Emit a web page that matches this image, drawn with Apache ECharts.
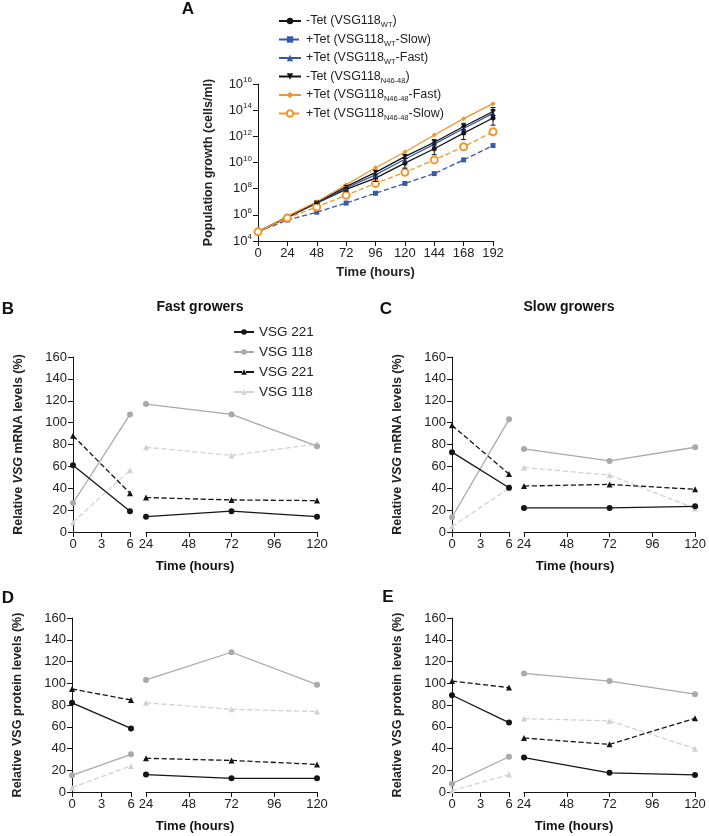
<!DOCTYPE html>
<html>
<head>
<meta charset="utf-8">
<script src="https://cdn.jsdelivr.net/npm/echarts@6/dist/echarts.min.js"></script>
<style>
  html, body { margin: 0; padding: 0; background: #fff; }
  #chart { width: 709px; height: 836px; }
</style>
</head>
<body>
<div id="chart"></div>
<script>
// panel A: population growth, log10(cells/ml)
var hoursA = [0, 24, 48, 72, 96, 120, 144, 168, 192];
var tetMinusWT  = [4.7, 5.8, 6.9, 7.95, 8.8, 9.95, 11.05, 12.25, 13.4];
var tetWTSlow   = [4.7, 5.6, 6.2, 6.9, 7.65, 8.4, 9.15, 10.2, 11.3];
var tetWTFast   = [4.7, 5.85, 6.9, 8.05, 9.05, 10.25, 11.4, 12.6, 13.75];
var tetMinusN46 = [4.7, 5.85, 6.95, 8.15, 9.25, 10.45, 11.55, 12.75, 13.9];
var tetN46Fast  = [4.7, 5.9, 7.0, 8.3, 9.6, 10.8, 12.1, 13.35, 14.5];
var tetN46Slow  = [4.7, 5.75, 6.6, 7.5, 8.4, 9.25, 10.2, 11.2, 12.35];
// error bars (half width, log10) for the -Tet lines
var errMinusWT  = [0, 0, 0.05, 0.15, 0.25, 0.38, 0.45, 0.5, 0.55];
var errMinusN46 = [0, 0, 0.05, 0.1, 0.15, 0.15, 0.2, 0.25, 0.3];

// panels B-E, hours 0, 6 | 24, 72, 120
var hours = [0, 6, 24, 72, 120];
var fastMrna221   = [61, 19, 14, 19, 14];
var fastMrna118   = [26.5, 107.5, 117, 107.5, 78.5];
var fastMrna221t  = [88, 35.5, 31.5, 29.3, 28.7];
var fastMrna118t  = [9, 56.5, 77.5, 70, 80.5];
var slowMrna221   = [73, 40.5, 22, 22, 23.5];
var slowMrna118   = [13.5, 103, 76, 65, 77.5];
var slowMrna221t  = [97.5, 53, 42, 43.5, 39];
var slowMrna118t  = [5, 40, 59, 52, 21.5];
var fastProt221   = [82, 58.5, 16, 12.6, 12.6];
var fastProt118   = [15.3, 34.6, 103, 128.5, 98.7];
var fastProt221t  = [94.7, 84.6, 31, 29, 25.4];
var fastProt118t  = [4, 24, 82, 76, 74];
var slowProt221   = [89, 63.8, 31.7, 17.6, 15.7];
var slowProt118   = [7.7, 32.4, 109, 102, 90];
var slowProt221t  = [102, 96, 49.6, 43.8, 67.8];
var slowProt118t  = [1.2, 16, 67.5, 65.4, 39.8];

var FONT = '"Liberation Sans", Arial, sans-serif';
var BLACK = '#151515', BLUE = '#3a58a8', ORANGE = '#f0962a', GRAY = '#a9a9a9', LIGHT = '#d2d2d2';

var chart = echarts.init(document.getElementById('chart'));

function pairs(xs, ys) {
    var out = [];
    for (var i = 0; i < xs.length; i++) out.push([xs[i], ys[i]]);
    return out;
}

var axisLine = { show: true, lineStyle: { color: BLACK, width: 1 } };
var axisTick = { show: true, length: 5, lineStyle: { color: BLACK, width: 1 } };
var tickLabel = { color: '#222', fontSize: 13, fontFamily: FONT };

var grids = [{ left: 258, top: 84, width: 235, height: 157 }];
var xAxes = [{
    gridIndex: 0, type: 'value', min: 0, max: 192, interval: 24,
    axisLine: axisLine, axisTick: axisTick, splitLine: { show: false },
    axisLabel: Object.assign({ margin: 6 }, tickLabel),
    name: 'Time (hours)', nameLocation: 'middle', nameGap: 25,
    nameTextStyle: { fontFamily: FONT, fontSize: 13, fontWeight: 'bold', color: '#222' }
}];
var yAxes = [{
    gridIndex: 0, type: 'value', min: 4, max: 16, interval: 2,
    axisLine: axisLine, axisTick: axisTick, splitLine: { show: false },
    axisLabel: Object.assign({
        margin: 6,
        formatter: function (v) { return '10{sup|' + v + '}'; },
        lineHeight: 16,
        rich: { sup: { fontSize: 8, lineHeight: 8, verticalAlign: 'top', fontFamily: FONT, color: '#222' } }
    }, tickLabel),
    name: 'Population growth (cells/ml)', nameLocation: 'middle', nameGap: 43,
    nameTextStyle: { fontFamily: FONT, fontSize: 12.5, fontWeight: 'bold', color: '#222' }
}];

// broken-axis panels
var panels = [
    { l: 73, lw: 57, r: 146, rw: 171, top: 357, h: 175, name: 'Relative {i|VSG} mRNA levels (%)',
      sets: [fastMrna221, fastMrna118, fastMrna221t, fastMrna118t] },
    { l: 452, lw: 57, r: 524, rw: 172, top: 357, h: 175, name: 'Relative {i|VSG} mRNA levels (%)',
      sets: [slowMrna221, slowMrna118, slowMrna221t, slowMrna118t] },
    { l: 72, lw: 59, r: 146, rw: 171, top: 618, h: 174, name: 'Relative VSG protein levels (%)',
      sets: [fastProt221, fastProt118, fastProt221t, fastProt118t] },
    { l: 452, lw: 57, r: 524, rw: 171, top: 618, h: 174, name: 'Relative VSG protein levels (%)',
      sets: [slowProt221, slowProt118, slowProt221t, slowProt118t] }
];

var lineStyles = [
    { color: BLACK, type: 'solid', symbol: 'circle', size: 6, label: 'VSG 221' },
    { color: GRAY, type: 'solid', symbol: 'circle', size: 6, label: 'VSG 118' },
    { color: BLACK, type: 'dashed', symbol: 'triangle', size: 6, label: 'VSG 221' },
    { color: LIGHT, type: 'dashed', symbol: 'triangle', size: 6, label: 'VSG 118' }
];
var legendNamesB = ['k221', 'k118', 'k221t', 'k118t'];

var series = [];

panels.forEach(function (p, pi) {
    var gi = grids.length;
    grids.push({ left: p.l, top: p.top, width: p.lw, height: p.h });
    grids.push({ left: p.r, top: p.top, width: p.rw, height: p.h });
    xAxes.push({
        gridIndex: gi, type: 'value', min: 0, max: 6, interval: 3,
        axisLine: axisLine, axisTick: axisTick, splitLine: { show: false },
        axisLabel: Object.assign({ margin: 6 }, tickLabel)
    });
    xAxes.push({
        gridIndex: gi + 1, type: 'value', min: 24, max: 120, interval: 24,
        axisLine: axisLine, axisTick: axisTick, splitLine: { show: false },
        axisLabel: Object.assign({ margin: 6 }, tickLabel)
    });
    yAxes.push({
        gridIndex: gi, type: 'value', min: 0, max: 160, interval: 20,
        axisLine: axisLine, axisTick: axisTick, splitLine: { show: false },
        axisLabel: Object.assign({ margin: 6 }, tickLabel),
        name: p.name, nameLocation: 'middle', nameGap: 48,
        nameTextStyle: {
            fontFamily: FONT, fontSize: 12.5, fontWeight: 'bold', color: '#222',
            rich: { i: { fontFamily: FONT, fontSize: 12.5, fontWeight: 'bold', fontStyle: 'italic', color: '#222' } }
        }
    });
    yAxes.push({ gridIndex: gi + 1, type: 'value', min: 0, max: 160, show: false });

    p.sets.forEach(function (vals, k) {
        var st = lineStyles[k];
        var common = {
            type: 'line', symbol: st.symbol, symbolSize: st.size,
            itemStyle: { color: st.color },
            lineStyle: { color: st.color, width: 1.3, type: st.type },
            z: 10 - k, animation: false
        };
        series.push(Object.assign({
            name: pi === 0 ? legendNamesB[k] : 'p' + pi + '_' + k + '_a',
            xAxisIndex: gi, yAxisIndex: gi,
            data: pairs(hours.slice(0, 2), vals.slice(0, 2))
        }, common));
        series.push(Object.assign({
            name: 'p' + pi + '_' + k + '_b',
            xAxisIndex: gi + 1, yAxisIndex: gi + 1,
            data: pairs(hours.slice(2), vals.slice(2))
        }, common));
    });
});

// panel A lines
var aDefs = [
    { name: 'mWT', data: tetMinusWT, color: BLACK, type: 'solid', symbol: 'circle', size: 5 },
    { name: 'pWTs', data: tetWTSlow, color: BLUE, type: 'dashed', symbol: 'rect', size: 5 },
    { name: 'pWTf', data: tetWTFast, color: BLUE, type: 'solid', symbol: 'triangle', size: 5 },
    { name: 'mN46', data: tetMinusN46, color: BLACK, type: 'solid', symbol: 'triangle', size: 5, rot: 180 },
    { name: 'pN46f', data: tetN46Fast, color: ORANGE, type: 'solid', symbol: 'diamond', size: 5 },
    { name: 'pN46s', data: tetN46Slow, color: ORANGE, type: 'dashed', symbol: 'emptyCircle', size: 7 }
];
var aLabels = {
    mWT: '-Tet (VSG118{sub|WT})',
    pWTs: '+Tet (VSG118{sub|WT}-Slow)',
    pWTf: '+Tet (VSG118{sub|WT}-Fast)',
    mN46: '-Tet (VSG118{sub|N46-48})',
    pN46f: '+Tet (VSG118{sub|N46-48}-Fast)',
    pN46s: '+Tet (VSG118{sub|N46-48}-Slow)'
};
aDefs.forEach(function (d) {
    series.push({
        name: d.name, type: 'line', xAxisIndex: 0, yAxisIndex: 0,
        symbol: d.symbol, symbolSize: d.size, symbolRotate: d.rot || 0,
        itemStyle: { color: d.color, borderWidth: d.symbol === 'emptyCircle' ? 2 : 0 },
        lineStyle: { color: d.color, width: 1.3, type: d.type },
        data: pairs(hoursA, d.data), animation: false
    });
});

var errData = [];
hoursA.forEach(function (h, i) {
    if (errMinusWT[i] > 0) errData.push([h, tetMinusWT[i] - errMinusWT[i], tetMinusWT[i] + errMinusWT[i]]);
    if (errMinusN46[i] > 0) errData.push([h, tetMinusN46[i] - errMinusN46[i], tetMinusN46[i] + errMinusN46[i]]);
});
series.push({
    name: 'err', type: 'custom', xAxisIndex: 0, yAxisIndex: 0, z: 20, animation: false,
    renderItem: function (params, api) {
        var lo = api.coord([api.value(0), api.value(1)]);
        var hi = api.coord([api.value(0), api.value(2)]);
        var st = { stroke: BLACK, lineWidth: 1 };
        return {
            type: 'group', children: [
                { type: 'line', shape: { x1: lo[0], y1: lo[1], x2: hi[0], y2: hi[1] }, style: st },
                { type: 'line', shape: { x1: lo[0] - 2.5, y1: lo[1], x2: lo[0] + 2.5, y2: lo[1] }, style: st },
                { type: 'line', shape: { x1: hi[0] - 2.5, y1: hi[1], x2: hi[0] + 2.5, y2: hi[1] }, style: st }
            ]
        };
    },
    data: errData
});

function txt(x, y, s, size, weight) {
    return {
        type: 'text', x: x, y: y, silent: true,
        style: {
            text: s, font: (weight || 'bold') + ' ' + size + 'px ' + FONT, fill: '#111',
            textAlign: 'center', textVerticalAlign: 'middle', align: 'center', verticalAlign: 'middle'
        }
    };
}

var option = {
    backgroundColor: '#fff',
    animation: false,
    grid: grids,
    xAxis: xAxes,
    yAxis: yAxes,
    legend: [{
        data: aDefs.map(function (d) { return d.name; }),
        orient: 'vertical', left: 273, top: 8, itemWidth: 22, itemHeight: 8, itemGap: 2.5,
        selectedMode: false,
        formatter: function (n) { return aLabels[n]; },
        textStyle: {
            fontFamily: FONT, fontSize: 12.5, color: '#222', lineHeight: 16,
            rich: { sub: { fontFamily: FONT, fontSize: 7.5, lineHeight: 8, verticalAlign: 'bottom', color: '#222' } }
        }
    }, {
        data: legendNamesB,
        orient: 'vertical', left: 228, top: 319, itemWidth: 20, itemHeight: 7, itemGap: 4,
        selectedMode: false,
        formatter: function (n) { return lineStyles[legendNamesB.indexOf(n)].label; },
        textStyle: { fontFamily: FONT, fontSize: 13.5, color: '#222', lineHeight: 16 }
    }],
    graphic: [
        txt(188, 9, 'A', 17),
        txt(8, 309, 'B', 17),
        txt(386, 309, 'C', 17),
        txt(8, 598, 'D', 17),
        txt(388, 597, 'E', 17),
        txt(200, 307, 'Fast growers', 14),
        txt(569, 307, 'Slow growers', 14),
        txt(195, 566, 'Time (hours)', 13),
        txt(575, 566, 'Time (hours)', 13),
        txt(195, 826, 'Time (hours)', 13),
        txt(574, 826, 'Time (hours)', 13)
    ],
    series: series
};

chart.setOption(option);
</script>
</body>
</html>
